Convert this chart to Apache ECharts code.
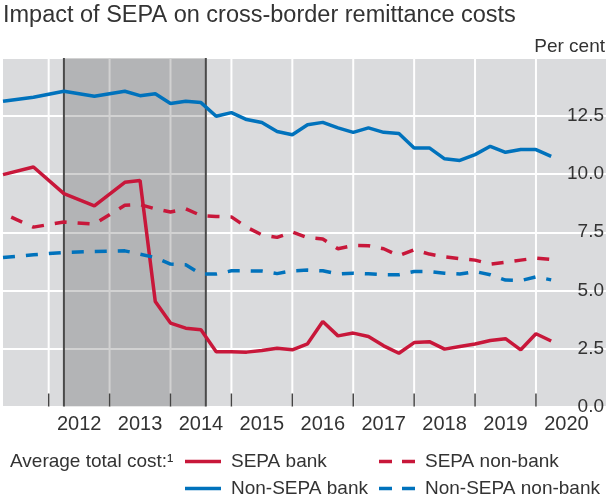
<!DOCTYPE html>
<html>
<head>
<meta charset="utf-8">
<script src="https://cdn.jsdelivr.net/npm/echarts@6/dist/echarts.min.js"></script>
<style>
    html, body { margin: 0; padding: 0; background: #fff; }
    #remitChart { width: 607px; height: 499px; }
</style>
</head>
<body>
<div id="remitChart"></div>
<script>
/* quarter positions (year + fraction), half-yearly until 2013 then quarterly */
var periods = [2011.25, 2011.75, 2012.25, 2012.75, 2013.25, 2013.5, 2013.75, 2014, 2014.25, 2014.5,
    2014.75, 2015, 2015.25, 2015.5, 2015.75, 2016, 2016.25, 2016.5, 2016.75, 2017,
    2017.25, 2017.5, 2017.75, 2018, 2018.25, 2018.5, 2018.75, 2019, 2019.25, 2019.5,
    2019.75, 2020, 2020.25];

var sepaBank = [9.98, 10.31, 9.16, 8.64, 9.65, 9.73, 4.52, 3.59, 3.37, 3.30,
    2.36, 2.36, 2.34, 2.41, 2.51, 2.44, 2.70, 3.66, 3.04, 3.16,
    3.01, 2.61, 2.29, 2.75, 2.79, 2.47, 2.58, 2.69, 2.84, 2.92,
    2.44, 3.13, 2.82];
var nonSepaBank = [13.14, 13.31, 13.57, 13.35, 13.57, 13.38, 13.46, 13.04, 13.14, 13.08,
    12.49, 12.65, 12.35, 12.22, 11.84, 11.70, 12.13, 12.23, 11.99, 11.80,
    11.99, 11.80, 11.75, 11.13, 11.13, 10.66, 10.59, 10.84, 11.20, 10.94,
    11.06, 11.06, 10.77];
var sepaNonBank = [8.31, 7.72, 7.94, 7.85, 8.66, 8.69, 8.51, 8.37, 8.51, 8.22,
    8.18, 8.16, 7.72, 7.39, 7.28, 7.51, 7.27, 7.21, 6.79, 6.93,
    6.92, 6.79, 6.49, 6.75, 6.56, 6.44, 6.36, 6.30, 6.13, 6.21,
    6.30, 6.39, 6.33];
var nonSepaNonBank = [6.41, 6.53, 6.63, 6.67, 6.70, 6.56, 6.41, 6.13, 6.10, 5.70,
    5.70, 5.84, 5.84, 5.83, 5.72, 5.84, 5.87, 5.84, 5.70, 5.74,
    5.71, 5.67, 5.67, 5.81, 5.81, 5.74, 5.70, 5.81, 5.67, 5.44,
    5.42, 5.58, 5.45];

var yearTicks = [2012, 2013, 2014, 2015, 2016, 2017, 2018, 2019, 2020];
var yearLabels = [2012.5, 2013.5, 2014.5, 2015.5, 2016.5, 2017.5, 2018.5, 2019.5, 2020.5];
var shadeStart = 2012.25;
var shadeEnd = 2014.58;

(function(){
    var dom = document.getElementById("remitChart");
    var chart = echarts.init(dom, null, {renderer: 'canvas'});
    var red = '#c8173a', blue = '#0072bc', txt = '#333333';
    var font = 'Liberation Sans';
    var yMin = 0, yMax = 15;

    function pairs(vals){
        var out = [];
        for (var i = 0; i < periods.length; i++) {
            out.push([periods[i], vals[i]]);
        }
        return out;
    }

    function lineSeries(name, vals, color, dashed){
        return {
            name: name,
            type: 'line',
            z: 8,
            symbol: 'none',
            data: pairs(vals),
            lineStyle: {
                color: color,
                width: 3.5,
                type: dashed ? [12, 11] : 'solid',
                dashOffset: (dashed && color === red) ? 14 : 0,
                cap: 'butt'
            },
            itemStyle: {color: color}
        };
    }

    /*********** background marks: year grid, shaded period, its edges, year ticks ***********/
    // item = [x0, x1, kind]   kind: 0 grid line, 1 shade, 2 edge, 3 tick
    var decoItems = [];
    var i;
    for (i = 0; i < yearTicks.length; i++) decoItems.push([yearTicks[i], yearTicks[i], 0]);
    decoItems.push([shadeStart, shadeEnd, 1]);
    decoItems.push([shadeStart, shadeStart, 2]);
    decoItems.push([shadeEnd, shadeEnd, 2]);
    for (i = 0; i < yearTicks.length; i++) decoItems.push([yearTicks[i], yearTicks[i], 3]);

    function renderDeco(params, api){
        var kind = api.value(2);
        var top = api.coord([api.value(0), yMax]);
        var bottom = api.coord([api.value(1), yMin]);
        if (kind === 0) {
            // white year grid line, drawn as a thin filled bar
            return {
                type: 'rect',
                shape: {x: top[0] - 1, y: top[1], width: 2, height: bottom[1] - top[1]},
                style: {fill: 'rgb(254,254,254)', stroke: null}
            };
        }
        if (kind === 1) {
            return {
                type: 'rect',
                shape: {x: top[0], y: top[1], width: bottom[0] - top[0], height: bottom[1] - top[1]},
                style: {fill: 'rgba(0,0,0,0.175)'}
            };
        }
        if (kind === 3) {
            return {
                type: 'line',
                shape: {x1: bottom[0], y1: bottom[1], x2: bottom[0], y2: bottom[1] - 13},
                style: {stroke: '#444444', lineWidth: 1.5}
            };
        }
        return {
            type: 'line',
            shape: {x1: bottom[0], y1: bottom[1], x2: top[0], y2: top[1]},
            style: {stroke: '#4a4a4a', lineWidth: 2}
        };
    }

    var solidIcon = 'path://M0 0H36V4H0Z';
    var dashIcon = 'path://M0 0H13V4H0ZM23 0H36V4H23Z';
    function legendAt(name, icon, left, top){
        return {
            data: [{name: name, icon: icon}],
            left: left,
            top: top,
            itemWidth: 36,
            itemHeight: 3.5,
            symbolKeepAspect: false,
            padding: 0,
            textStyle: {fontSize: 19, color: txt, fontFamily: font, padding: [0, 0, 0, 5]}
        };
    }

    var option = {
        animation: false,
        textStyle: {fontFamily: font},
        title: {
            text: 'Impact of SEPA on cross-border remittance costs',
            left: 3,
            top: 4,
            padding: 0,
            textStyle: {fontSize: 23.5, fontWeight: 'normal', color: txt, fontFamily: font}
        },
        graphic: [{
            type: 'text',
            right: 2,
            top: 37,
            style: {text: 'Per cent', fontSize: 19, fill: txt, fontFamily: font}
        }, {
            type: 'text',
            left: 10,
            top: 452,
            style: {text: 'Average total cost:\u00b9', fontSize: 19, fill: txt, fontFamily: font}
        }],
        legend: [
            legendAt('SEPA bank', solidIcon, 185, 452),
            legendAt('SEPA non-bank', dashIcon, 379, 452),
            legendAt('Non-SEPA bank', solidIcon, 185, 479),
            legendAt('Non-SEPA non-bank', dashIcon, 379, 479)
        ],
        grid: {
            show: true,
            backgroundColor: '#dadbdd',
            borderWidth: 0,
            left: 3,
            right: 0,
            top: 58,
            bottom: 92.5
        },
        xAxis: {
            type: 'value',
            min: 2011.25,
            max: 2021.15,
            axisLine: {show: false},
            axisTick: {show: false},
            axisLabel: {
                customValues: yearLabels,
                formatter: function(v){ return String(Math.floor(v)); },
                fontSize: 20,
                color: txt,
                margin: 8
            },
            splitLine: {show: false}
        },
        yAxis: {
            type: 'value',
            position: 'right',
            min: yMin,
            max: yMax,
            interval: 2.5,
            axisLine: {show: false},
            axisTick: {show: false},
            axisLabel: {
                inside: true,
                margin: 2,
                fontSize: 19,
                color: txt,
                verticalAlign: 'middle',
                padding: [0, 0, 25, 0],
                formatter: function(v){ return v >= yMax ? '' : v.toFixed(1); }
            },
            splitLine: {show: true, lineStyle: {color: '#ffffff', width: 2}}
        },
        series: [
            lineSeries('SEPA bank', sepaBank, red, false),
            lineSeries('SEPA non-bank', sepaNonBank, red, true),
            lineSeries('Non-SEPA bank', nonSepaBank, blue, false),
            lineSeries('Non-SEPA non-bank', nonSepaNonBank, blue, true),
            {
                name: 'background marks',
                type: 'custom',
                z: 4,
                silent: true,
                encode: {x: [0, 1]},
                renderItem: renderDeco,
                data: decoItems
            }
        ]
    };
    chart.setOption(option, true);
})();
</script>
</body>
</html>
